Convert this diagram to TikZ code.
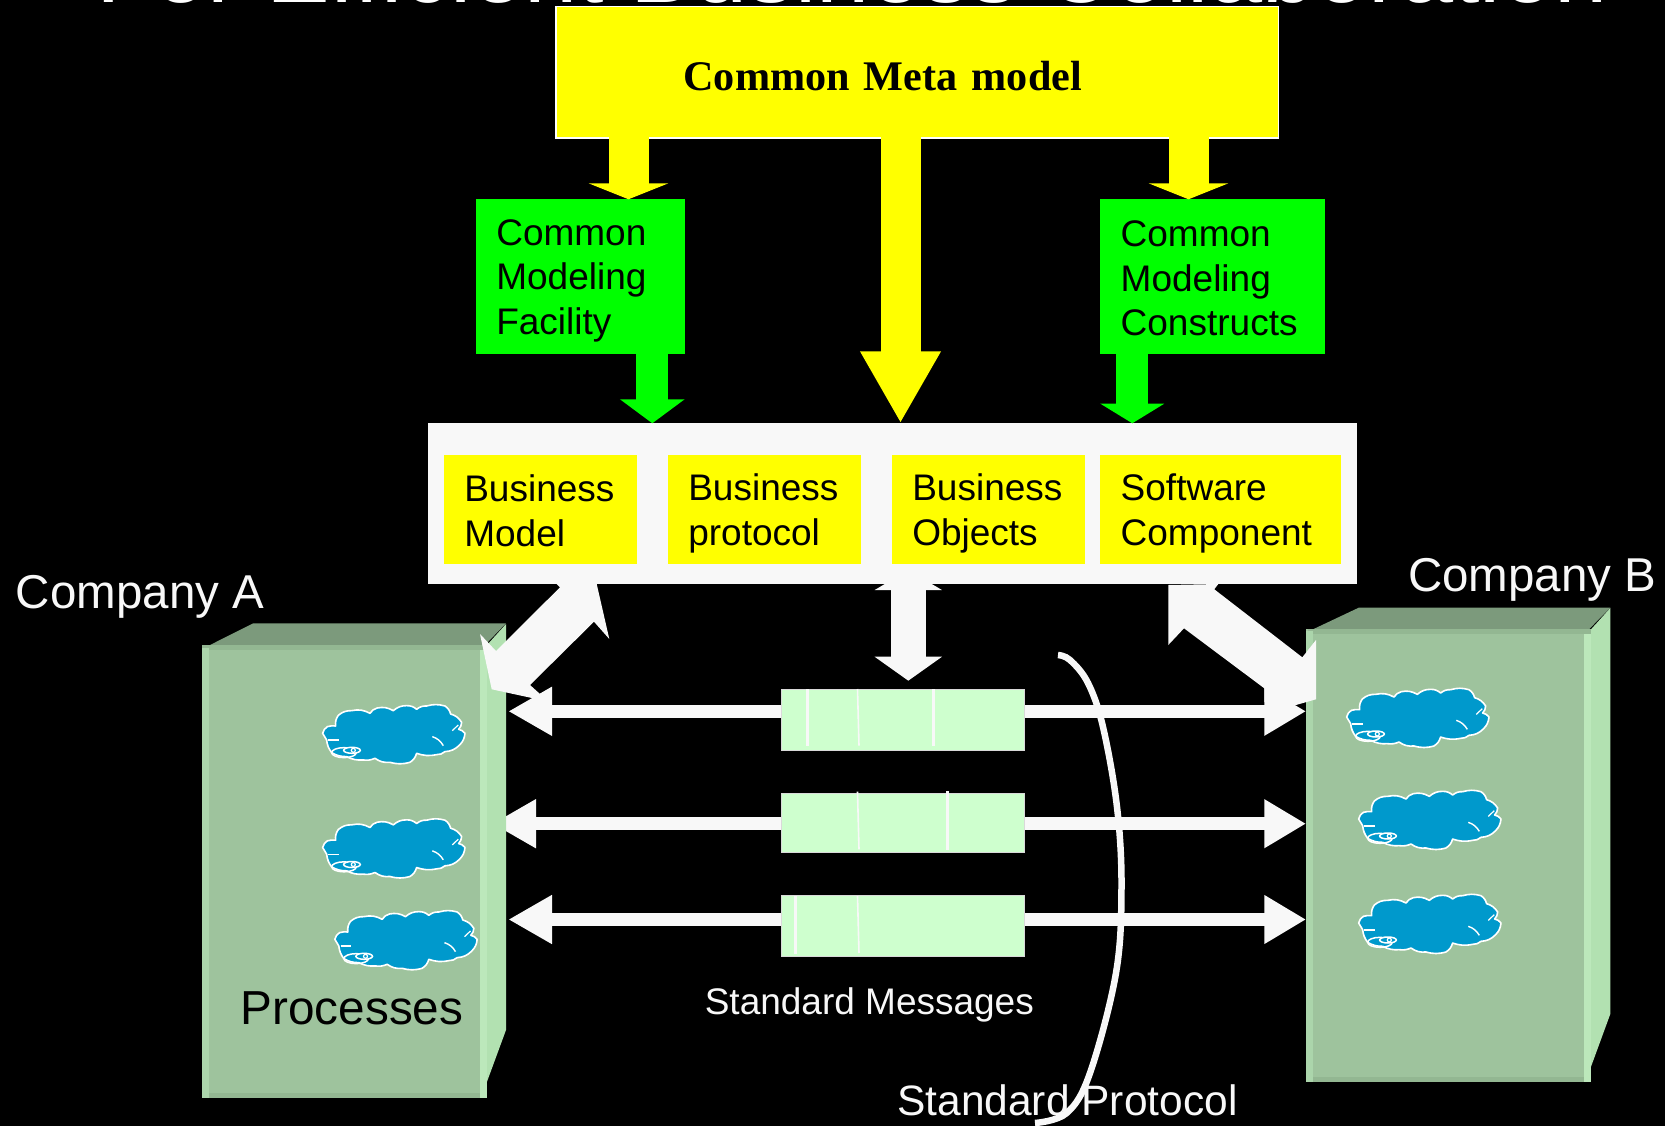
\documentclass[tikz,border=0pt]{standalone}
\usepackage{fontspec}
\setmainfont{Liberation Sans}
\newfontfamily\timesfont{Liberation Serif}
\usetikzlibrary{arrows.meta}
\definecolor{pureyellow}{RGB}{255,255,0}
\definecolor{puregreen}{RGB}{0,255,0}
\definecolor{panelwhite}{HTML}{F8F8F8}
\definecolor{boxfront}{HTML}{9EC39D}
\definecolor{boxleft}{HTML}{ABD5AB}
\definecolor{boxright}{HTML}{BCE8BB}
\definecolor{boxside}{HTML}{B2E1B1}
\definecolor{boxtop}{HTML}{7C9A7C}
\definecolor{boxlip}{HTML}{93B792}
\definecolor{msggreen}{HTML}{CEFFCE}
\definecolor{cloudblue}{HTML}{0099CC}
\newcommand\lst{\rule[-5pt]{0pt}{39.3pt}}
\pgfdeclarelayer{back}
\pgfsetlayers{back,main}
\tikzset{
  plain/.style={inner sep=0pt,outer sep=0pt,anchor=north west},
  labelbox/.style n args={3}{plain,fill=#3,minimum width=#1,minimum height=#2,align=left,
    font=\fontsize{37}{44.6}\selectfont,text=black},
  freelabel/.style={inner sep=0pt,outer sep=0pt,anchor=base west},
  blockarrow/.style n args={4}{draw=#1,line width=#2,-{Triangle[width=#3,length=#4,fill=#1]}},
  whitearrow/.style={draw=panelwhite,line width=13pt,
    {Triangle[width=46pt,length=43.7pt,fill=panelwhite]}-{Triangle[width=46pt,length=41.7pt,fill=panelwhite]}},
  tick/.style={draw=panelwhite},
  procloud/.pic={
    \begin{scope}[x=.3333pt,y=-.3333pt,shift={(-610,-490)}]
      \draw[fill=cloudblue,draw=white,line width=1.6pt,line join=round]
        (398,490) to[bend left=20] (412,470) to[bend left=10] (437,468) to[bend left=20] (445,436)
        to[bend left=20] (485,422) to[bend left=20] (540,430) to[bend left=20] (562,414)
        to[bend left=20] (610,422) to[bend left=20] (650,407) to[bend left=20] (680,418)
        to[bend left=20] (710,408) to[bend left=15] (765,408) to[bend left=20] (782,432)
        to[bend left=20] (815,457) to[bend left=20] (806,478) to[bend left=20] (825,490)
        to[bend left=20] (808,526) to[bend left=20] (765,545) to[bend left=20] (740,554)
        to[bend left=15] (680,550) to[bend left=20] (660,577) to[bend left=15] (600,577)
        to[bend left=20] (555,565) to[bend left=15] (520,570) to[bend left=15] (470,560)
        to[bend left=15] (425,548) to[bend left=15] (410,510) -- cycle;
      \draw[white,line width=1.4pt] (727,500) to[bend left=20] (760,527);
      \draw[white,line width=1.2pt] (787,482) -- (805,465);
      \draw[white,line width=1.8pt] (415,511) -- (446,511);
      \draw[white,line width=1.5pt] (462,548) ellipse [x radius=37,y radius=15];
      \draw[white,line width=1.5pt,fill=cloudblue] (486,541) ellipse [x radius=25,y radius=9];
      \draw[white,line width=1.2pt] (490,541) circle [radius=6];
    \end{scope}
  }
}
\begin{document}
\begin{tikzpicture}[x=1pt,y=-1pt]
\useasboundingbox (0,0) rectangle (1665,1126);
\begin{pgfonlayer}{back}
  \fill[black] (0,0) rectangle (1665,1126);
\end{pgfonlayer}

% title, cut by the top edge as in the reference
\node[inner sep=0pt,anchor=base,text=white,font=\fontsize{95.5}{100}\selectfont] (title) at (852,2.5)
  {For Efficient Business Collaboration};

% meta model
\node[plain,fill=pureyellow,draw=white,line width=1.2pt,minimum width=722.7pt,minimum height=131.3pt,
  inner xsep=127.5pt,text width=467.7pt,align=left,font=\timesfont\bfseries\fontsize{42.2}{48}\selectfont,text=black]
  (meta) at (556,6.7) {\rule[-3pt]{0pt}{42.7pt}Common Meta model};

% modelling boxes
\node[labelbox={209pt}{154.7pt}{puregreen},inner xsep=20.3pt,text width=168.4pt] (facility) at (476,199.3)
  {\lst Common\\\lst Modeling\\\lst Facility};
\node[labelbox={225pt}{154.7pt}{puregreen},inner xsep=20.7pt,text width=183.6pt] (constructs) at (1100,199.3)
  {\lst Common\\\lst Modeling\\\lst Constructs};

% panel
\node[plain,fill=panelwhite,minimum width=929pt,minimum height=160.7pt] (panel) at (428,423.3) {};
\node[labelbox={193pt}{108.4pt}{pureyellow},inner xsep=20.3pt,text width=152.4pt] (bmodel) at (444,455.3)
  {\lst Business\\\lst Model};
\node[labelbox={193pt}{108.4pt}{pureyellow},inner xsep=20.3pt,text width=152.4pt] (bproto) at (668,455.3)
  {\lst Business\\\lst protocol};
\node[labelbox={193pt}{108.4pt}{pureyellow},inner xsep=20.3pt,text width=152.4pt] (bobj) at (892,455.3)
  {\lst Business\\\lst Objects};
\node[labelbox={241pt}{108.4pt}{pureyellow},inner xsep=20.7pt,text width=199.6pt] (swcomp) at (1100,455.3)
  {\lst Software\\\lst Component};

% block arrows between boxes
\coordinate (xa) at (628.5,0);
\coordinate (xb) at (900.5,0);
\coordinate (xc) at (1188.5,0);
\coordinate (xd) at (652.3,0);
\coordinate (xe) at (1132.3,0);
\draw[blockarrow={pureyellow}{40pt}{79.4pt}{16pt},shorten <=-1pt] (meta.south -| xa) -- (facility.north -| xa);
\draw[blockarrow={pureyellow}{40pt}{75.5pt}{72pt},shorten <=-1pt] (meta.south -| xb) -- (panel.north -| xb);
\draw[blockarrow={pureyellow}{40pt}{79.4pt}{16pt},shorten <=-1pt] (meta.south -| xc) -- (constructs.north -| xc);
\draw[blockarrow={puregreen}{32pt}{63.4pt}{24pt}] (facility.south -| xd) -- (panel.north -| xd);
\draw[blockarrow={puregreen}{32pt}{63pt}{19.6pt}] (constructs.south -| xe) -- (panel.north -| xe);

% company A box
\node[plain,fill=boxfront,minimum width=285pt,minimum height=453pt] (compA) at (202,645) {};
\fill[boxtop] (210,645) -- (253.3,623.3) -- (506,623.3) -- (488,642) -- (488,645) -- cycle;
\fill[boxside] (487,645) -- (506,624) -- (506,1030) -- (487,1081.7) -- cycle;
\fill[boxlip] (compA.north west) rectangle (487,650);
\fill[boxlip] (202,1092.7) rectangle (compA.south east);
\fill[boxleft] (compA.north west) ++(0,3) rectangle (209,1098);
\fill[boxright] (480,650) rectangle (compA.south east);
\node[freelabel,text=black,font=\fontsize{47.7}{52}\selectfont] (procs) at (240.7,1024) {Processes};
\pic at (393.3,733.3) {procloud};
\pic at (393.3,847.5) {procloud};
\pic at (405.5,939.3) {procloud};

% company B box
\node[plain,fill=boxfront,minimum width=285pt,minimum height=452.7pt] (compB) at (1306,629.3) {};
\fill[boxtop] (1313,629.3) -- (1358.7,607.7) -- (1610.3,607.7) -- (1589,629.3) -- cycle;
\fill[boxside] (1591,629.3) -- (1610.3,608) -- (1610.3,1014) -- (1591,1066.7) -- cycle;
\fill[boxlip] (1308,629.3) rectangle (1591,634);
\fill[boxlip] (1306,1076.7) rectangle (compB.south east);
\fill[boxleft] (1306,631) rectangle (1313,1082);
\fill[boxright] (1584,634) rectangle (compB.south east);
\pic at (1417.3,717) {procloud};
\pic at (1429.3,819) {procloud};
\pic at (1429.3,923) {procloud};

% message boxes
\node[plain,fill=msggreen,draw=white!85!black,line width=.8pt,minimum width=243pt,minimum height=61pt] (msgone) at (781.7,689) {};
\node[plain,fill=msggreen,draw=white!85!black,line width=.8pt,minimum width=243pt,minimum height=58.7pt] (msgtwo) at (781.7,793.3) {};
\node[plain,fill=msggreen,draw=white!85!black,line width=.8pt,minimum width=243pt,minimum height=60.7pt] (msgthree) at (781.7,895.3) {};
\draw[tick,line width=3pt] (807.7,689) -- (807.7,745.7);
\draw[tick,line width=1.6pt] (857.5,689) -- (859,745.7);
\draw[tick,line width=2.5pt] (933.3,689) -- (933.3,745.7);
\draw[tick,line width=1.6pt] (857.5,791.7) -- (859,849.3);
\draw[tick,line width=2.5pt] (947.7,791) -- (947.7,849.7);
\draw[tick,line width=3pt] (795.3,896) -- (795.3,954);
\draw[tick,line width=1.6pt] (857.5,896) -- (859,953);

% horizontal message arrows, under the boxes
\coordinate (lone) at (508.3,711.3);
\coordinate (ltwo) at (492.3,823.7);
\coordinate (lthree) at (508.3,919.5);
\begin{pgfonlayer}{back}
  \draw[whitearrow] (lone) -- (compB.west |- lone);
  \draw[whitearrow] (ltwo) -- (compB.west |- ltwo);
  \draw[whitearrow] (lthree) -- (compB.west |- lthree);
\end{pgfonlayer}

% centre double arrow from the panel to the messages
\coordinate (cu) at (908.3,570);
\coordinate (cd) at (908.3,680.7);
\draw[draw=panelwhite,line width=34.4pt,
  {Triangle[width=66.3pt,length=20pt,fill=panelwhite]}-{Triangle[width=66.3pt,length=24pt,fill=panelwhite]}] (cu) -- (cd);

% skewed double arrows from the panel to the companies
\fill[panelwhite] (480,634) -- (496,651) -- (560,587.3) -- (556.7,584) -- (596.7,584) -- (609.3,639) -- (594,621.7)
  -- (530,685) -- (540,694) -- (533.3,698.3) -- (491.7,689.3) -- cycle;
\fill[panelwhite] (1168.3,585) -- (1168.3,645) -- (1184,628.3) -- (1264.3,688.3) -- (1264.3,702) -- (1296,705)
  -- (1316,699.3) -- (1316,640) -- (1302.3,657.3) -- (1214.3,589.3) -- (1218.3,584) -- cycle;

% standard protocol curve
\coordinate (pstart) at (1058,655);
\coordinate (pend) at (1035,1123);
\draw[panelwhite,line width=6.5pt] plot[smooth,tension=.6] coordinates
  {(pstart) (1070,660) (1088,683) (1103,727) (1117,807) (1121.5,887) (1116,973) (1090,1073) (1066.7,1113) (pend)};

% free labels
\node[freelabel,text=panelwhite,font=\fontsize{47.5}{52}\selectfont] (compAlabel) at (16,608.3) {Company A};
\node[freelabel,text=panelwhite,font=\fontsize{47.5}{52}\selectfont] (compBlabel) at (1408,591.7) {Company B};
\node[freelabel,text=panelwhite,font=\fontsize{37}{42}\selectfont] (msglabel) at (704.8,1014) {Standard Messages};
\node[freelabel,text=panelwhite,font=\fontsize{42.5}{47}\selectfont] (protolabel) at (897.3,1115) {Standard Protocol};
\end{tikzpicture}
\end{document}
